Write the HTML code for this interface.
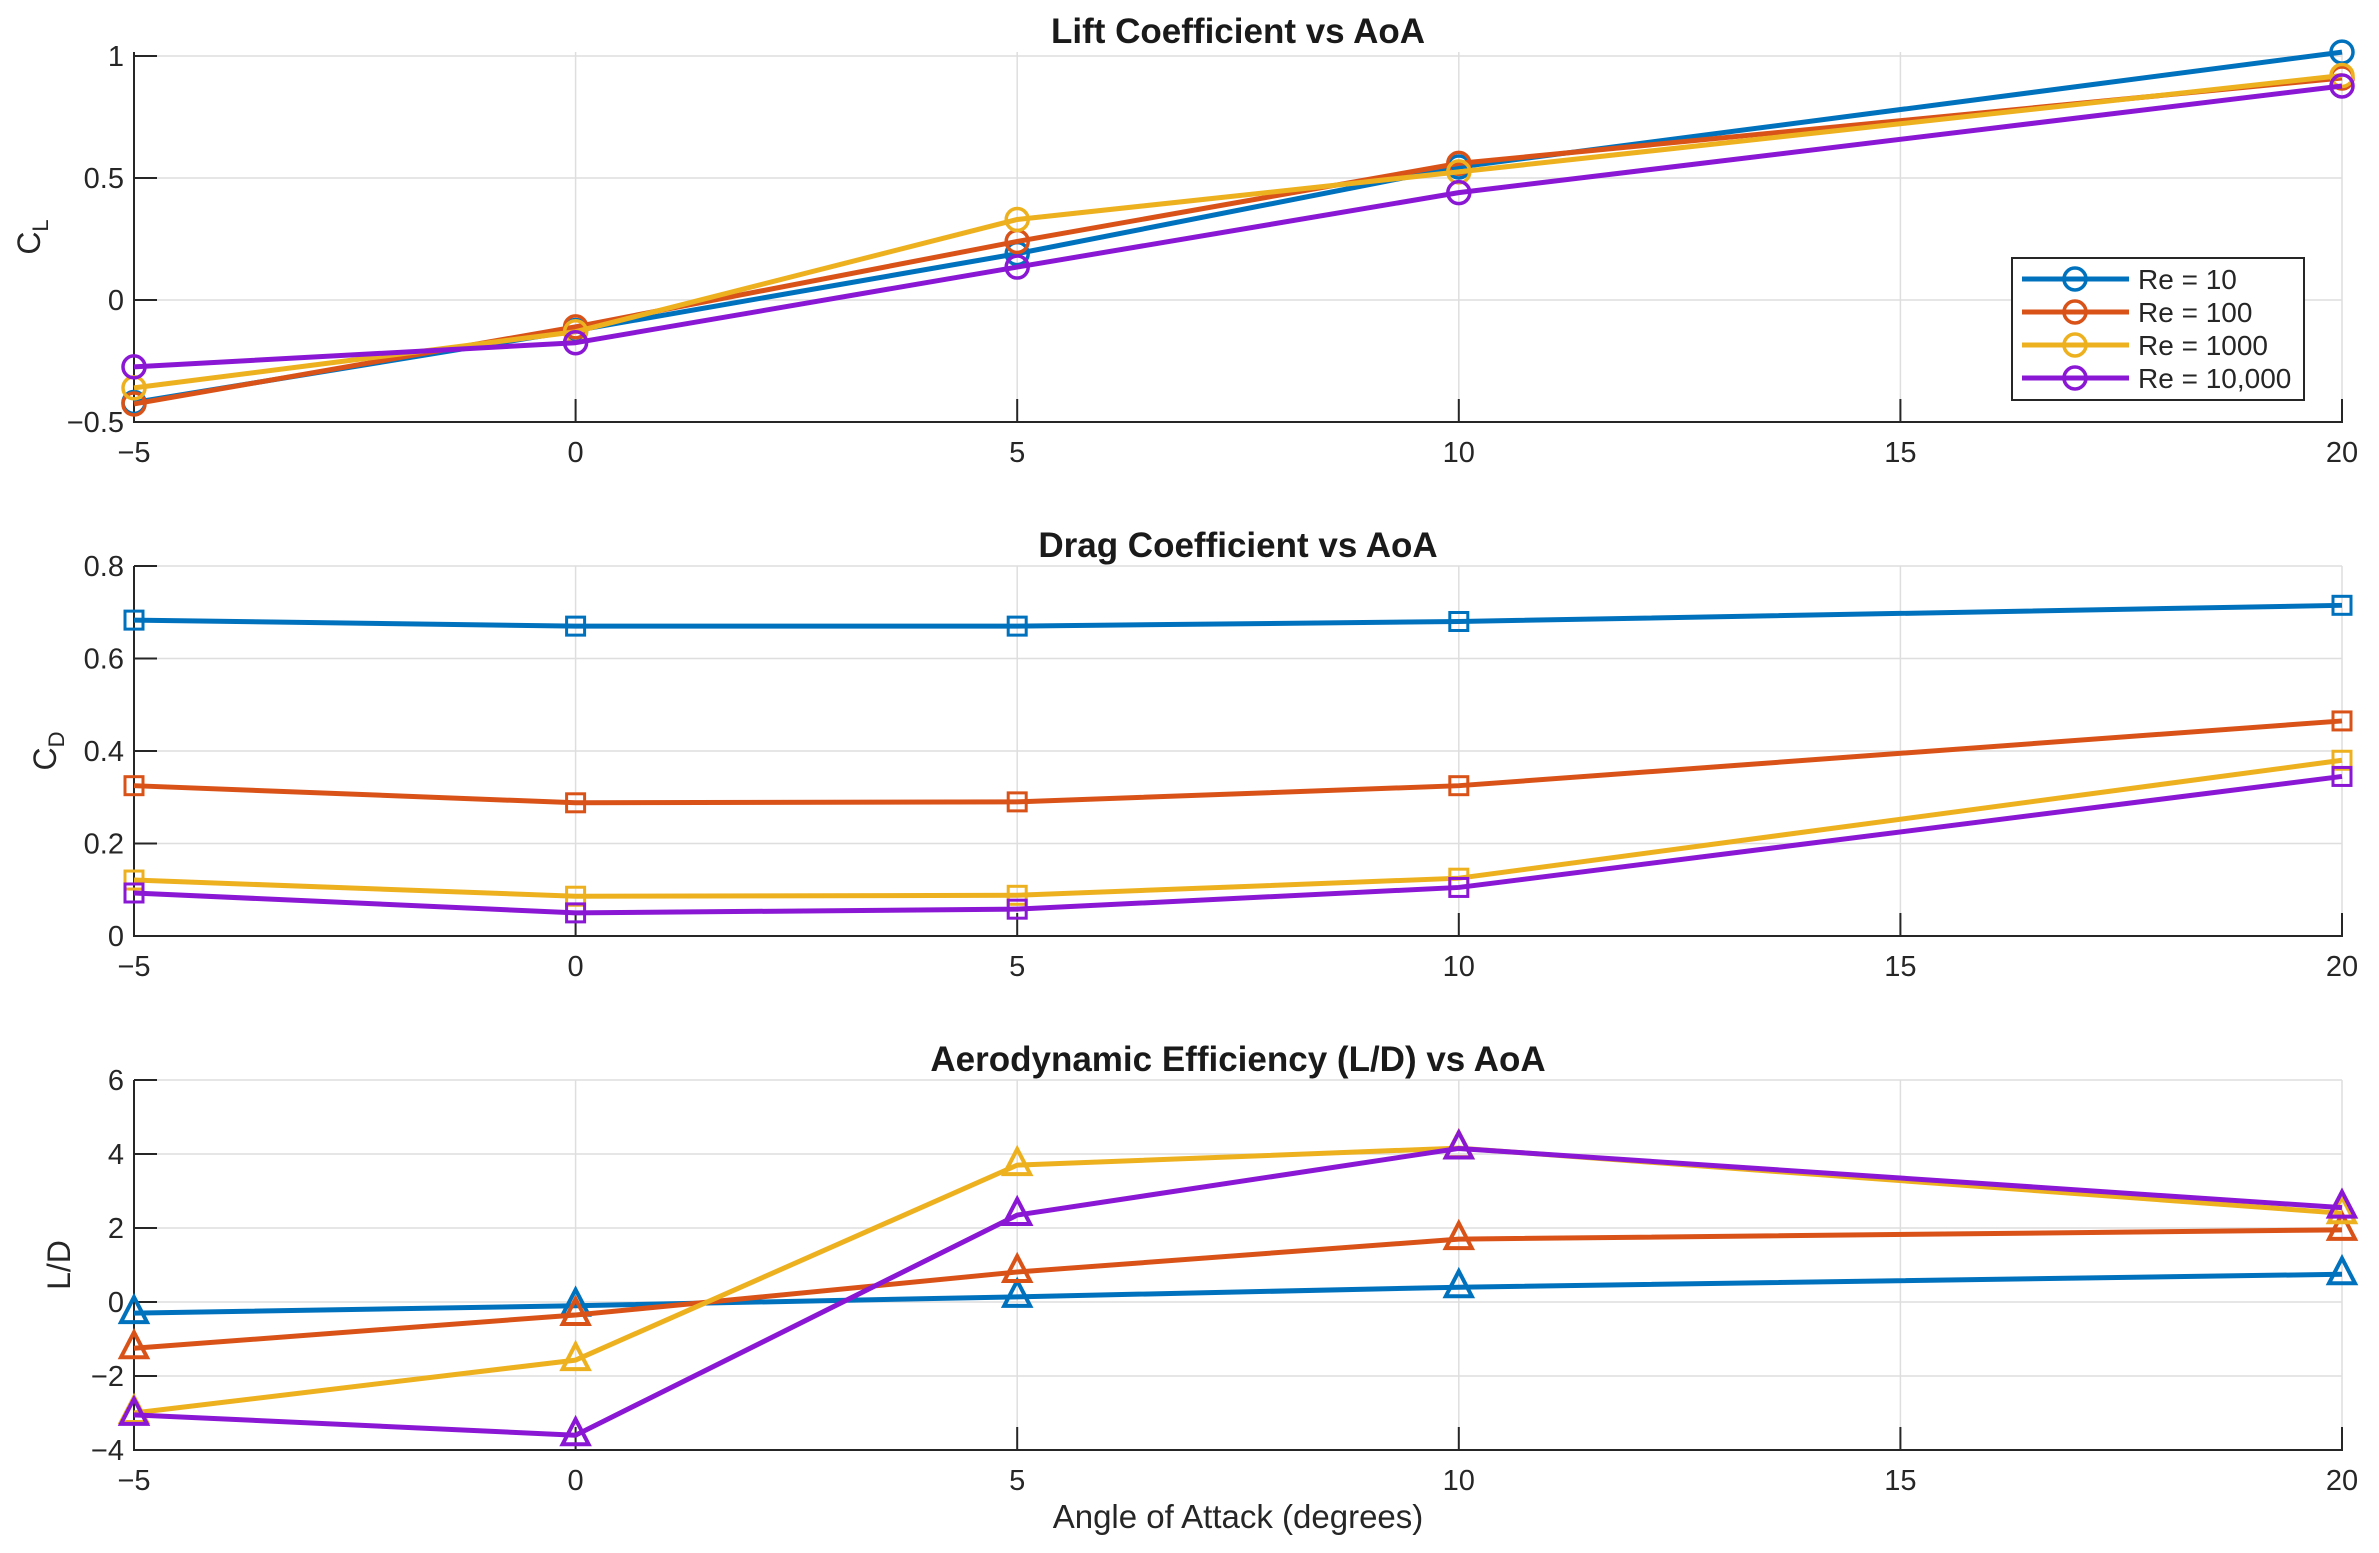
<!DOCTYPE html>
<html><head><meta charset="utf-8"><style>
html,body{margin:0;padding:0;background:#fff;}
svg{display:block;font-family:"Liberation Sans",Arial,sans-serif;}
</style></head><body>
<svg id="fig" width="2379" height="1553" viewBox="0 0 2379 1553" xmlns="http://www.w3.org/2000/svg"></svg>
<script>
const aoa = [-5, 0, 5, 10, 20];
const xTicks = [-5, 0, 5, 10, 15, 20];
const seriesNames = ["Re = 10", "Re = 100", "Re = 1000", "Re = 10,000"];
const clRe10 = [-0.42, -0.125, 0.19, 0.545, 1.016];
const clRe100 = [-0.426, -0.11, 0.24, 0.56, 0.91];
const clRe1000 = [-0.36, -0.13, 0.33, 0.525, 0.92];
const clRe10000 = [-0.274, -0.175, 0.135, 0.44, 0.877];
const cdRe10 = [0.683, 0.67, 0.67, 0.68, 0.715];
const cdRe100 = [0.325, 0.288, 0.29, 0.325, 0.465];
const cdRe1000 = [0.121, 0.086, 0.088, 0.125, 0.38];
const cdRe10000 = [0.093, 0.05, 0.058, 0.105, 0.345];
const ldRe10 = [-0.3, -0.1, 0.14, 0.4, 0.75];
const ldRe100 = [-1.25, -0.35, 0.81, 1.7, 1.95];
const ldRe1000 = [-3.0, -1.57, 3.7, 4.16, 2.4];
const ldRe10000 = [-3.05, -3.6, 2.35, 4.15, 2.55];
const clTicks = [-0.5, 0, 0.5, 1];
const clTickLabels = ["\u22120.5", "0", "0.5", "1"];
const cdTicks = [0, 0.2, 0.4, 0.6, 0.8];
const cdTickLabels = ["0", "0.2", "0.4", "0.6", "0.8"];
const ldTicks = [-4, -2, 0, 2, 4, 6];
const ldTickLabels = ["\u22124", "\u22122", "0", "2", "4", "6"];
const xTickLabels = ["\u22125", "0", "5", "10", "15", "20"];

const colors = ["#0072BD", "#D95319", "#EDB120", "#8A17D4"];
const NS = "http://www.w3.org/2000/svg";
const svg = document.getElementById("fig");
function el(tag, attrs, parent) {
  const e = document.createElementNS(NS, tag);
  for (const k in attrs) e.setAttribute(k, attrs[k]);
  (parent || svg).appendChild(e);
  return e;
}
const X0 = 134, X1 = 2342;
function xs(v) { return X0 + (v - (-5)) / 25 * (X1 - X0); }

function marker(g, type, cx, cy, color) {
  let m;
  if (type === "circle") {
    m = el("circle", {cx: cx, cy: cy, r: 11, fill: "none", stroke: color, "stroke-width": 3.5}, g);
  } else if (type === "square") {
    m = el("rect", {x: cx - 9, y: cy - 9, width: 18, height: 18, fill: "none", stroke: color, "stroke-width": 3}, g);
  } else {
    m = el("polygon", {points: (cx) + "," + (cy - 16) + " " + (cx - 13) + "," + (cy + 9) + " " + (cx + 13) + "," + (cy + 9), fill: "none", stroke: color, "stroke-width": 4}, g);
  }
  return m;
}

function panel(opts) {
  const g = el("g", {});
  
  
  const ys = v => opts.yb - (v - opts.ymin) / (opts.ymax - opts.ymin) * (opts.yb - opts.yt);
  const grid = el("g", {}, g);
  
  
  xTicks.forEach(t => {
    el("line", {x1: xs(t), x2: xs(t), y1: opts.yt, y2: opts.yb, stroke: "#dedede", "stroke-width": 1.5}, grid);
  });
  opts.ticks.forEach(t => {
    el("line", {x1: X0, x2: X1, y1: ys(t), y2: ys(t), stroke: "#dedede", "stroke-width": 1.5}, grid);
  });
  const ax = el("g", {}, g);
  
  
  el("line", {x1: X0, x2: X0, y1: opts.yt, y2: opts.yb + 1, stroke: "#262626", "stroke-width": 2}, ax);
  el("line", {x1: X0 - 1, x2: X1 + 1, y1: opts.yb, y2: opts.yb, stroke: "#262626", "stroke-width": 2}, ax);
  opts.ticks.forEach((t, i) => {
    el("line", {x1: X0, x2: X0 + 23, y1: ys(t), y2: ys(t), stroke: "#262626", "stroke-width": 2}, ax);
    const tx = el("text", {x: X0 - 10, y: ys(t) + 10, "text-anchor": "end", "font-size": 29, fill: "#262626"}, ax);
    tx.textContent = opts.tickLabels[i];
    
    
  });
  xTicks.forEach((t, i) => {
    el("line", {x1: xs(t), x2: xs(t), y1: opts.yb, y2: opts.yb - 23, stroke: "#262626", "stroke-width": 2}, ax);
    const tx = el("text", {x: xs(t), y: opts.yb + 40, "text-anchor": "middle", "font-size": 29, fill: "#262626"}, ax);
    tx.textContent = xTickLabels[i];
    
    
  });
  const ti = el("text", {x: (X0 + X1) / 2, y: opts.yt - 9, "text-anchor": "middle", "font-size": 35, "font-weight": "bold", fill: "#1a1a1a"}, g);
  ti.textContent = opts.title;
  
  
  const yl = el("text", {transform: "translate(" + opts.ylx + "," + ((opts.yt + opts.yb) / 2) + ") rotate(-90)", "text-anchor": "middle", "font-size": 32, fill: "#262626"}, g);
  
  
  if (opts.sub) {
    const a = el("tspan", {}, yl); a.textContent = opts.ylabel;
    const b = el("tspan", {"font-size": 22, dy: 8}, yl); b.textContent = opts.sub;
  } else {
    yl.textContent = opts.ylabel;
  }
  opts.series.forEach((data, si) => {
    const sg = el("g", {}, g);
    
    
    const pts = data.map((v, i) => xs(aoa[i]) + "," + ys(v)).join(" ");
    const pl = el("polyline", {points: pts, fill: "none", stroke: colors[si], "stroke-width": 5, "stroke-linejoin": "round"}, sg);
    
    
    data.forEach((v, i) => {
      const m = marker(sg, opts.marker, xs(aoa[i]), ys(v), colors[si]);
      
      
    });
  });
  return g;
}

panel({name: "lift-panel", title: "Lift Coefficient vs AoA", yt: 52, yb: 422, ymin: -0.5, ymax: 1.0164,
  ticks: clTicks, tickLabels: clTickLabels, ylabel: "C", sub: "L", ylx: 40, marker: "circle",
  series: [clRe10, clRe100, clRe1000, clRe10000]});
panel({name: "drag-panel", title: "Drag Coefficient vs AoA", yt: 566, yb: 936, ymin: 0, ymax: 0.8,
  ticks: cdTicks, tickLabels: cdTickLabels, ylabel: "C", sub: "D", ylx: 56, marker: "square",
  series: [cdRe10, cdRe100, cdRe1000, cdRe10000]});
panel({name: "efficiency-panel", title: "Aerodynamic Efficiency (L/D) vs AoA", yt: 1080, yb: 1450, ymin: -4, ymax: 6,
  ticks: ldTicks, tickLabels: ldTickLabels, ylabel: "L/D", ylx: 70, marker: "triangle",
  series: [ldRe10, ldRe100, ldRe1000, ldRe10000]});

const xl = el("text", {x: (X0 + X1) / 2, y: 1528, "text-anchor": "middle", "font-size": 33, fill: "#262626"});
xl.textContent = "Angle of Attack (degrees)";



const lg = el("g", {});


el("rect", {x: 2012, y: 258, width: 292, height: 142, fill: "#fff", stroke: "#262626", "stroke-width": 2}, lg);
seriesNames.forEach((n, i) => {
  const y = 279 + i * 33;
  const e = el("g", {}, lg);
  
  
  el("line", {x1: 2022, x2: 2129, y1: y, y2: y, stroke: colors[i], "stroke-width": 5}, e);
  el("circle", {cx: 2075, cy: y, r: 11, fill: "none", stroke: colors[i], "stroke-width": 3.5}, e);
  const t = el("text", {x: 2138, y: y + 10, "font-size": 28, fill: "#262626"}, e);
  t.textContent = n;
});
</script>
</body></html>
